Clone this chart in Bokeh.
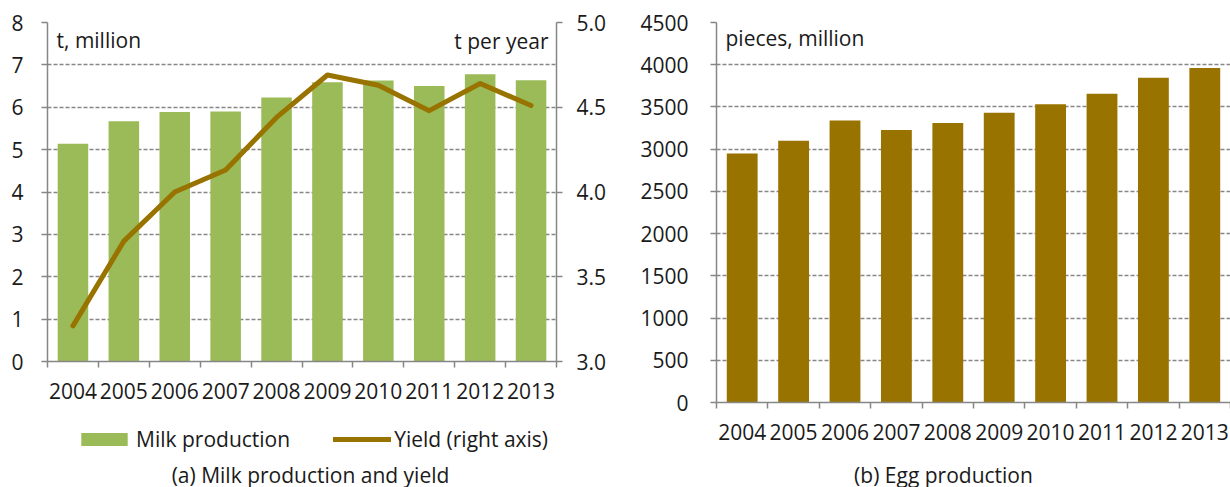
from bokeh.plotting import figure
from bokeh.models import (Range1d, LinearAxis, FixedTicker, Legend, LegendItem,
                          Label, ColumnDataSource, NumeralTickFormatter)
from bokeh.layouts import row, column
from bokeh.embed import file_html
from bokeh.resources import INLINE

years = ["2004", "2005", "2006", "2007", "2008", "2009", "2010", "2011", "2012", "2013"]
milk = [5.14, 5.67, 5.89, 5.90, 6.23, 6.59, 6.63, 6.50, 6.78, 6.64]
yield_t = [3.21, 3.71, 4.00, 4.13, 4.44, 4.69, 4.63, 4.48, 4.64, 4.51]
eggs = [2950, 3100, 3340, 3228, 3311, 3430, 3533, 3656, 3846, 3961]

milk_ticks = [0, 1, 2, 3, 4, 5, 6, 7, 8]
yield_ticks = [3.0, 3.5, 4.0, 4.5, 5.0]
egg_ticks = [0, 500, 1000, 1500, 2000, 2500, 3000, 3500, 4000, 4500]

FONT = "Open Sans"
FS = "21px"
GREEN = "#9BBB59"
BROWN = "#997300"
GRAY = "#868686"
TXT = "#1a1a1a"
NAN = float("nan")

idx = list(range(len(years)))
bounds = [i - 0.5 for i in range(len(years) + 1)]
labels = {i: y for i, y in enumerate(years)}


def style_axis(ax, standoff):
    ax.axis_line_color = GRAY
    ax.axis_line_width = 1.5
    ax.major_tick_line_color = GRAY
    ax.major_tick_line_width = 1.5
    ax.major_tick_out = 6
    ax.major_tick_in = 0
    ax.minor_tick_line_color = None
    ax.major_label_text_font = FONT
    ax.major_label_text_font_size = FS
    ax.major_label_text_color = TXT
    ax.major_label_standoff = standoff


def style_xaxis(ax):
    ax.ticker = FixedTicker(ticks=idx, minor_ticks=bounds)
    ax.major_label_overrides = labels
    ax.axis_line_color = GRAY
    ax.axis_line_width = 1.5
    ax.major_tick_line_color = None
    ax.major_tick_out = 6
    ax.major_tick_in = 0
    ax.minor_tick_line_color = GRAY
    ax.minor_tick_line_width = 1.5
    ax.minor_tick_out = 6
    ax.minor_tick_in = 0
    ax.major_label_text_font = FONT
    ax.major_label_text_font_size = FS
    ax.major_label_text_color = TXT
    ax.major_label_standoff = 15


def base_fig(height, ymax, mbl, mbr, ystand):
    p = figure(width=615, height=height, output_backend="svg", toolbar_location=None,
               x_range=Range1d(-0.5, len(years) - 0.5), y_range=Range1d(0, ymax),
               min_border_left=mbl, min_border_right=mbr, min_border_top=22,
               min_border_bottom=45)
    p.outline_line_color = None
    p.xgrid.grid_line_color = None
    p.ygrid.grid_line_color = "#868686"
    p.ygrid.grid_line_dash = "4 2"
    p.ygrid.grid_line_width = 1.5
    style_xaxis(p.xaxis[0])
    style_axis(p.yaxis[0], ystand)
    return p


def aux_fig(height, mbl, mbr):
    a = figure(width=615, height=height, output_backend="svg", toolbar_location=None,
               x_range=Range1d(mbl, 615 - mbr), y_range=Range1d(0, height),
               min_border_left=mbl, min_border_right=mbr, min_border_top=0,
               min_border_bottom=0)
    a.axis.visible = False
    a.grid.visible = False
    a.outline_line_color = None
    return a


def txt(**kw):
    return Label(text_font=FONT, text_font_size=FS, text_color=TXT, **kw)


# ---- (a) Milk production and yield
src_a = ColumnDataSource(dict(x=idx, milk=milk, yld=yield_t))
p1 = base_fig(406, milk_ticks[-1], 47, 59, 18)
p1.yaxis[0].ticker = FixedTicker(ticks=milk_ticks)
p1.extra_y_ranges = {"yield": Range1d(yield_ticks[0], yield_ticks[-1])}
ax_r = LinearAxis(y_range_name="yield", ticker=FixedTicker(ticks=yield_ticks),
                  formatter=NumeralTickFormatter(format="0.0"))
style_axis(ax_r, 14)
p1.add_layout(ax_r, "right")

p1.vbar(x="x", top="milk", width=0.6, source=src_a, fill_color=GREEN, line_color=None)
p1.line(x="x", y="yld", source=src_a, y_range_name="yield", line_color=BROWN,
        line_width=5, line_join="round", line_cap="round")

p1.add_layout(txt(x=-0.5, y=milk_ticks[-1], x_offset=9, y_offset=-3, text="t, million",
                  text_baseline="top"))
p1.add_layout(txt(x=len(years) - 0.5, y=milk_ticks[-1], x_offset=-8, y_offset=-4,
                  text="t per year", text_align="right", text_baseline="top"))

# legend + caption strip under (a); swatch renderers carry no visible data
a1 = aux_fig(81, 47, 59)
r_bar = a1.vbar(x=[NAN], top=[NAN], width=0.6, fill_color=GREEN, line_color=None)
r_line = a1.line(x=[NAN], y=[NAN], line_color=BROWN, line_width=5, line_cap="round")
leg = Legend(items=[LegendItem(label="Milk production", renderers=[r_bar]),
                    LegendItem(label="Yield (right axis)", renderers=[r_line])],
             orientation="horizontal", location=(28, 34),
             label_text_font=FONT, label_text_font_size=FS, label_text_color=TXT,
             glyph_width=58, glyph_height=16, label_standoff=3, spacing=43,
             border_line_color=None, background_fill_alpha=0, padding=0, margin=0)
a1.add_layout(leg)
a1.add_layout(txt(x=310, y=13, text="(a) Milk production and yield",
                  text_align="center", text_baseline="middle"))

# ---- (b) Egg production
src_b = ColumnDataSource(dict(x=idx, eggs=eggs))
p2 = base_fig(447, egg_ticks[-1], 101, 0, 22)
p2.yaxis[0].ticker = FixedTicker(ticks=egg_ticks)
p2.vbar(x="x", top="eggs", width=0.6, source=src_b, fill_color=BROWN, line_color=None)
p2.add_layout(txt(x=-0.5, y=egg_ticks[-1], x_offset=9, y_offset=-1, text="pieces, million",
                  text_baseline="top"))

a2 = aux_fig(40, 101, 0)
a2.add_layout(txt(x=328, y=13, text="(b) Egg production",
                  text_align="center", text_baseline="middle"))

layout = row(column(p1, a1, spacing=0), column(p2, a2, spacing=0), spacing=0)
open("out.html", "w").write(file_html(layout, INLINE))
